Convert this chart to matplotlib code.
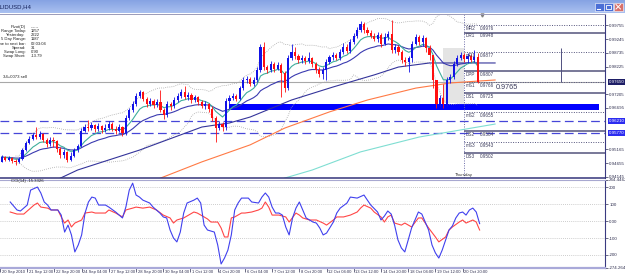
import numpy as np
import pandas as pd
import matplotlib
matplotlib.use("Agg")
import matplotlib.pyplot as plt
from matplotlib.patches import Rectangle
from matplotlib.colors import LinearSegmentedColormap
from matplotlib.transforms import ScaledTranslation

plt.rcParams['font.family'] = ['Liberation Sans', 'DejaVu Sans']

W, H = 625, 277

# ---- H4 candles, AUDUSD (open of each bar = close of the previous one)
first_open = 0.9470
close = [0.9488, 0.9477, 0.9484, 0.9473, 0.9470, 0.9481, 0.9514, 0.9540, 0.9555, 0.9570,
         0.9562, 0.9573, 0.9551, 0.9536, 0.9551, 0.9547, 0.9518, 0.9496, 0.9507, 0.9477,
         0.9492, 0.9514, 0.9529, 0.9584, 0.9599, 0.9595, 0.9607, 0.9592, 0.9603, 0.9588,
         0.9595, 0.9610, 0.9592, 0.9584, 0.9599, 0.9577, 0.9632, 0.9662, 0.9684, 0.9714,
         0.9729, 0.9703, 0.9684, 0.9695, 0.9681, 0.9692, 0.9662, 0.9644, 0.9684, 0.9677,
         0.9699, 0.9714, 0.9729, 0.9710, 0.9718, 0.9699, 0.9710, 0.9692, 0.9677, 0.9684,
         0.9666, 0.9632, 0.9595, 0.9610, 0.9599, 0.9695, 0.9706, 0.9714, 0.9703, 0.9743,
         0.9773, 0.9777, 0.9758, 0.9773, 0.9810, 0.9895, 0.9821, 0.9810, 0.9832, 0.9814,
         0.9829, 0.9799, 0.9743, 0.9854, 0.9877, 0.9862, 0.9847, 0.9854, 0.9843, 0.9854,
         0.9832, 0.9810, 0.9795, 0.9810, 0.9840, 0.9858, 0.9866, 0.9854, 0.9877, 0.9895,
         0.9880, 0.9914, 0.9936, 0.9958, 0.9980, 0.9958, 0.9947, 0.9936, 0.9925, 0.9940,
         0.9906, 0.9932, 0.9943, 0.9884, 0.9895, 0.9877, 0.9847, 0.9840, 0.9854, 0.9906,
         0.9932, 0.9914, 0.9928, 0.9891, 0.9866, 0.9773, 0.9684, 0.9706, 0.9684, 0.9773,
         0.9784, 0.9832, 0.9854, 0.9866, 0.9851, 0.9862, 0.9847, 0.9858, 0.9765]
high = [0.9496, 0.9492, 0.9492, 0.9488, 0.9481, 0.9488, 0.9521, 0.9547, 0.9566, 0.9577,
        0.9599, 0.9584, 0.9577, 0.9558, 0.9562, 0.9562, 0.9551, 0.9525, 0.9518, 0.9510,
        0.9507, 0.9521, 0.9536, 0.9595, 0.9610, 0.9625, 0.9618, 0.9610, 0.9614, 0.9607,
        0.9610, 0.9621, 0.9618, 0.9603, 0.9610, 0.9603, 0.9644, 0.9669, 0.9695, 0.9725,
        0.9736, 0.9732, 0.9710, 0.9706, 0.9703, 0.9703, 0.9736, 0.9669, 0.9695, 0.9692,
        0.9710, 0.9725, 0.9740, 0.9751, 0.9729, 0.9725, 0.9718, 0.9714, 0.9699, 0.9695,
        0.9688, 0.9677, 0.9640, 0.9621, 0.9618, 0.9706, 0.9718, 0.9725, 0.9721, 0.9751,
        0.9784, 0.9788, 0.9784, 0.9784, 0.9821, 0.9906, 0.9914, 0.9829, 0.9843, 0.9840,
        0.9840, 0.9836, 0.9806, 0.9866, 0.9906, 0.9895, 0.9869, 0.9866, 0.9862, 0.9877,
        0.9858, 0.9840, 0.9821, 0.9821, 0.9851, 0.9866, 0.9877, 0.9873, 0.9888, 0.9910,
        0.9906, 0.9925, 0.9947, 0.9969, 0.9991, 0.9988, 0.9969, 0.9958, 0.9947, 0.9951,
        0.9947, 0.9947, 0.9954, 0.9995, 0.9906, 0.9903, 0.9884, 0.9858, 0.9862, 0.9917,
        0.9943, 0.9940, 0.9940, 0.9932, 0.9903, 0.9858, 0.9773, 0.9718, 0.9758, 0.9784,
        0.9795, 0.9843, 0.9866, 0.9877, 0.9873, 0.9873, 0.9869, 0.9884, 0.9873]
low = [0.9470, 0.9473, 0.9473, 0.9466, 0.9459, 0.9466, 0.9477, 0.9510, 0.9536, 0.9551,
       0.9555, 0.9555, 0.9544, 0.9525, 0.9529, 0.9525, 0.9507, 0.9484, 0.9484, 0.9470,
       0.9473, 0.9488, 0.9507, 0.9525, 0.9581, 0.9584, 0.9588, 0.9581, 0.9584, 0.9577,
       0.9581, 0.9588, 0.9584, 0.9573, 0.9581, 0.9566, 0.9570, 0.9625, 0.9655, 0.9677,
       0.9706, 0.9695, 0.9673, 0.9677, 0.9669, 0.9673, 0.9655, 0.9629, 0.9636, 0.9662,
       0.9669, 0.9692, 0.9706, 0.9703, 0.9699, 0.9688, 0.9692, 0.9681, 0.9669, 0.9666,
       0.9655, 0.9621, 0.9544, 0.9588, 0.9584, 0.9588, 0.9684, 0.9699, 0.9695, 0.9699,
       0.9736, 0.9762, 0.9751, 0.9751, 0.9766, 0.9803, 0.9810, 0.9799, 0.9803, 0.9803,
       0.9810, 0.9710, 0.9729, 0.9736, 0.9847, 0.9851, 0.9836, 0.9836, 0.9832, 0.9836,
       0.9821, 0.9799, 0.9784, 0.9777, 0.9773, 0.9832, 0.9847, 0.9847, 0.9847, 0.9869,
       0.9873, 0.9873, 0.9906, 0.9928, 0.9951, 0.9947, 0.9940, 0.9928, 0.9917, 0.9914,
       0.9895, 0.9903, 0.9921, 0.9873, 0.9873, 0.9866, 0.9836, 0.9825, 0.9803, 0.9840,
       0.9903, 0.9903, 0.9899, 0.9877, 0.9847, 0.9743, 0.9669, 0.9673, 0.9669, 0.9677,
       0.9762, 0.9777, 0.9825, 0.9847, 0.9840, 0.9836, 0.9840, 0.9840, 0.9762]

# ---- slow moving averages (bar index, price)
slow_ma_bar = [17, 22, 40, 58, 66, 72, 84, 96, 108, 115, 124, 134, 143]
slow_ma = [0.9410, 0.9440, 0.9514, 0.9599, 0.9614, 0.9636, 0.9699, 0.9747, 0.9792, 0.9821,
           0.9836, 0.9836, 0.9836]
orange_ma_bar = [46, 58, 72, 82, 95, 106, 120, 130, 138, 143]
orange_ma = [0.9410, 0.9470, 0.9533, 0.9595, 0.9655, 0.9699, 0.9743, 0.9762, 0.9769, 0.9773]
aqua_ma_bar = [82, 90, 104, 121, 143]
aqua_ma = [0.9410, 0.9440, 0.9507, 0.9562, 0.9610]

# ---- daily pivots
pivot_names = ["MR2", "DR1", "mR1", "DPP", "mS1", "DS1", "mS2", "DS2", "mS3", "DS3"]
pivot_values = [0.9976, 0.9948, 0.9877, 0.9807, 0.9766, 0.9725, 0.9655, 0.9584, 0.9543, 0.9502]
day_start = 134
user_lines = [0.9621, 0.9577]
zone_bars = (66, 173)
zone_prices = (0.9662, 0.9684)
shade_bars = (128, 134)
shade_prices = (0.9688, 0.9891)
marker_bar = 162
marker_top = 0.9891

price_ticks = [0.99755, 0.99245, 0.98735, 0.98225, 0.97205, 0.96695, 0.95165, 0.94655, 0.94145]

# ---- CCI panel
cci_bar = [0, 2, 3, 5, 6, 8, 9, 10, 11, 12, 14, 15, 16, 17, 18, 19, 20, 21, 22, 23, 24, 25, 26, 28,
           29, 31, 33, 34, 35, 36, 37, 38, 39, 41, 42, 44, 45, 46, 47, 48, 49, 50, 51, 52, 54,
           55, 56, 57, 58, 60, 61, 62, 63, 64, 65, 66, 67, 68, 70, 71, 73, 74, 75, 76, 77, 78,
           79, 80, 81, 82, 83, 84, 85, 86, 87, 89, 90, 91, 92, 93, 95, 96, 97, 99, 100, 102,
           104, 105, 106, 108, 109, 110, 111, 112, 113, 114, 115, 116, 117, 118, 119, 120, 121,
           122, 123, 124, 125, 126, 127, 128, 129, 130, 131, 132, 133, 134, 135, 136, 137, 138]
cci = [112, 65, 59, 94, 182, 200, 165, 112, 94, 65, 65, 35, -65, -24, -82, -182, -141, -82,
       47, 112, 141, 135, 94, 94, 82, 53, 18, 82, 182, 223, 153, 141, 123, 106, 82, 47, 24, 18,
       -53, -100, -123, -65, 47, 106, 123, 135, 106, -24, -53, -65, -141, -253, -218, -171,
       -82, 65, 106, 135, 135, 112, 106, 141, 165, 141, 82, 47, 47, 35, -35, -82, 18, 76, 112,
       65, 18, -6, -12, -41, -82, -71, -6, 47, 76, 106, 141, 135, 153, 123, 94, 53, 6, 29, 59,
       41, -24, -112, -159, -182, -112, -41, 6, 53, 41, -6, -53, -141, -188, -218, -171, -112,
       -53, -29, 18, 47, 53, 35, 65, 76, 53, -15.3326]
sig_bar = [0, 2, 4, 7, 8, 9, 11, 12, 14, 15, 16, 17, 18, 19, 21, 22, 24, 25, 28, 29, 31, 33,
           34, 36, 37, 39, 41, 43, 45, 47, 48, 49, 51, 54, 55, 57, 58, 59, 61, 62, 63, 64, 65,
           66, 68, 69, 71, 73, 74, 75, 76, 77, 79, 81, 82, 84, 85, 86, 88, 90, 92, 93, 95, 96,
           98, 100, 102, 103, 104, 106, 107, 109, 110, 111, 112, 113, 115, 116, 118, 120, 121,
           123, 125, 126, 128, 129, 130, 132, 133, 134, 136, 137, 138]
sig = [53, 41, 41, 94, 106, 82, 76, 65, 65, 24, -12, 6, -35, -12, 6, 47, 53, 47, 47, 65, 47,
       24, 65, 76, 82, 76, 82, 65, 35, 18, -12, 6, 18, 53, 47, 24, 12, -6, -6, -41, -94, -94,
       18, 24, 47, 47, 53, 65, 76, 112, 82, 35, 35, 24, -6, 47, 35, 18, 6, 6, -12, -24, 6, 24,
       24, 35, 53, 76, 94, 76, 53, 24, -6, 24, 35, -12, -24, -12, -35, 18, 18, -41, -94, -123,
       -94, -53, -35, -6, 6, -12, 6, -6, -53]
cci_ticks = [244.4462, 200, 100, 0, -100, -200, -274.2644]
cci_tick_labels = ["244.4462", "200", "100", "0.00", "-100", "-200", "-274.2644"]

# ---- time axis
tick_bars = [-3, 5, 13, 21, 29, 37, 45, 53, 61, 69, 77, 85, 93, 101, 109, 117, 125, 133]
tick_labels = ["20 Sep 2010", "21 Sep 12:00", "22 Sep 20:00", "24 Sep 04:00", "27 Sep 12:00",
               "28 Sep 20:00", "30 Sep 04:00", "1 Oct 12:00", "4 Oct 20:00", "6 Oct 04:00",
               "7 Oct 12:00", "8 Oct 20:00", "12 Oct 04:00", "13 Oct 12:00", "14 Oct 20:00",
               "18 Oct 04:00", "19 Oct 12:00", "20 Oct 20:00"]

info_labels = ["Pivot(D)", "Range Today:", "Yesterday:", "5 Day Range:", "Time to next bar:",
               "Spread:", "Swap Long:", "Swap Short:"]
info_values = ["------", "1257", "2222", "1187", "02:03:04", "31", "0.90", "-13.79"]


def box(x0, y0, x1, y1):
    return [x0 / W, 1 - y1 / H, (x1 - x0) / W, (y1 - y0) / H]


fig = plt.figure(figsize=(W / 100, H / 100), dpi=100, facecolor="white")
XL = (-0.507, 174.855)
UP, DN = "#1212e6", "#ff1010"
NAVY = "#3a3a80"

# ---------------- title bar
tb = fig.add_axes(box(0, 0, W, 13))
cmap = LinearSegmentedColormap.from_list("tb", ["#86a3e3", "#a9c0f0"])
tb.imshow(np.linspace(0, 1, 20)[:, None], aspect="auto", cmap=cmap, extent=(0, W, 13, 0))
tb.set_xlim(0, W)
tb.set_ylim(13, 0)
tb.axis("off")
tb.text(-3, 6.5, "AUDUSD,H4", fontsize=4.3, color="#13205a", va="center", ha="left")
for x0, fc in [(595, "#4b6fd6"), (604, "#4b6fd6"), (614, "#d9706a")]:
    tb.add_patch(Rectangle((x0, 2.5), 8.5, 8.5, fc=fc, ec="white", lw=0.4))
tb.plot([597, 600], [9, 9], color="white", lw=0.8)
tb.add_patch(Rectangle((606, 4.5), 4.5, 4.5, fc="none", ec="white", lw=0.6))
tb.plot([616, 620.5], [4.5, 9], color="white", lw=0.7)
tb.plot([616, 620.5], [9, 4.5], color="white", lw=0.7)

# ---------------- main price panel
ax = fig.add_axes(box(0, 14, 605, 178))
n = len(close)
x = np.arange(n)
c = np.array(close)
o = np.array([first_open] + close[:-1])
h = np.array(high)
l = np.array(low)
col = [UP if cc >= oo else DN for oo, cc in zip(o, c)]

ax.add_patch(Rectangle((shade_bars[0], shade_prices[0]), shade_bars[1] - shade_bars[0],
                       shade_prices[1] - shade_prices[0], fc="#e4e4e4", ec="none", zorder=0))
ax.add_patch(Rectangle((zone_bars[0], zone_prices[0]), zone_bars[1] - zone_bars[0],
                       zone_prices[1] - zone_prices[0], fc="#0000ff", ec="none", zorder=1))
for v in user_lines:
    ax.axhline(v, color="#4646d8", lw=0.9, ls=(0, (7, 3.5)), zorder=1.5)
ax.axhline(c[-1], color="#a8a8a8", lw=0.8, zorder=1.5)
ax.axvline(day_start, color="#6a6aa8", lw=0.7, ls=(0, (1, 1.5)), zorder=1.5)

for name, v in zip(pivot_names, pivot_values):
    if name.startswith("D"):
        ax.hlines(v, day_start, XL[1], color="#54547c", lw=1.1, zorder=1.6)
    else:
        ax.hlines(v, day_start, XL[1], color="#54547c", lw=0.7, ls=(0, (1, 1.5)), zorder=1.6)
    ax.annotate(name, (day_start + 0.6, v), xytext=(0, -2.3), textcoords="offset points",
                fontsize=3.3, color="#3c3c5c", va="center", ha="left", zorder=4)
    ax.annotate(f"{v:.4f}", (day_start + 4.6, v), xytext=(0, -2.3), textcoords="offset points",
                fontsize=3.3, color="#3c3c5c", va="center", ha="left", zorder=4)
ax.annotate(f"{c[-1]:.4f}", (143.2, c[-1]), xytext=(0, -3.6), textcoords="offset points",
            fontsize=5.2, color="#3a3a5a", va="center", ha="left", zorder=4)
ax.vlines(marker_bar, c[-1], marker_top, color="#505080", lw=0.7, zorder=2)

# bands and averages
s = pd.Series(c)
mid = s.rolling(20, min_periods=5).mean()
sd = s.rolling(20, min_periods=5).std(ddof=0)
ax.plot(x, mid + 2 * sd, color="#a8a8a8", lw=0.6, ls=(0, (1, 1.5)), zorder=2)
ax.plot(x, mid - 2 * sd, color="#a8a8a8", lw=0.6, ls=(0, (1, 1.5)), zorder=2)
ax.plot(slow_ma_bar, slow_ma, color="#34349a", lw=0.8, zorder=2.5)
ax.plot(orange_ma_bar, orange_ma, color="#ff7a45", lw=0.8, zorder=2.5)
ax.plot(aqua_ma_bar, aqua_ma, color="#7fded2", lw=0.8, zorder=2.5)
ax.plot(x, s.ewm(span=21, adjust=False).mean(), color="#3a3ab0", lw=0.8, zorder=2.5)
ax.plot(x, s.ewm(span=8, adjust=False).mean(), color="#3fae9c", lw=0.8, zorder=2.6)

# candles
ax.vlines(x, l, h, colors=col, lw=0.6, zorder=3)
ax.bar(x, np.maximum(np.abs(c - o), 0.00008), bottom=np.minimum(o, c), width=0.62,
       color=col, lw=0, zorder=3.1)

ax.text(day_start, 0.9414, "Thursday", fontsize=3.2, color="#303030", ha="center", va="bottom")
ax.text(0.3, 0.9775, "34+0073 sell", fontsize=3.1, color="#202020", ha="left", va="bottom")
ax.plot([139.2], [1.0013], marker="v", ms=2.2, color="#808080", clip_on=False)

for i, (lab, val) in enumerate(zip(info_labels, info_values)):
    yy = 0.9969 - i * 0.00153
    ax.text(24.0 / 3.45, yy, lab, fontsize=3.0, color="#202020", ha="right", va="center")
    ax.text(29.0 / 3.45, yy, val, fontsize=3.0, color="#202020", ha="left", va="center")

ax.set_xlim(*XL)
ax.set_ylim(0.94104, 1.00172)
ax.yaxis.tick_right()
ax.set_yticks(price_ticks)
ax.set_yticklabels([f"{v:.5f}" for v in price_ticks])
ax.tick_params(axis="y", length=1.8, width=0.5, pad=1.2, labelsize=3.2, colors="#303050")
ax.set_xticks([])
for side in ["left"]:
    ax.spines[side].set_visible(False)
ax.spines["top"].set_color("#9a9ab8")
ax.spines["top"].set_linewidth(0.7)
ax.spines["right"].set_color(NAVY)
ax.spines["right"].set_linewidth(0.8)
ax.spines["bottom"].set_color("#34347a")
ax.spines["bottom"].set_linewidth(1.1)

hl = [(c[-1], "#1e1e66")] + [(v, "#2c2cf0") for v in user_lines]
for v, fc in hl:
    ax.text(1.006, v, f"{v:.5f}", transform=ax.get_yaxis_transform(), fontsize=3.2,
            color="white", va="center", ha="left", clip_on=False,
            bbox=dict(boxstyle="square,pad=0.15", fc=fc, ec="none"))

# ---------------- CCI panel
ax2 = fig.add_axes(box(0, 179.5, 605, 267.6))
for g in [200, 100, 0, -100, -200]:
    ax2.axhline(g, color="#bdbdbd", lw=0.6, ls=(0, (1, 1.5)), zorder=0)
ax2.plot(sig_bar, sig, color="#ff4646", lw=0.8)
ax2.plot(cci_bar, cci, color="#4040ee", lw=0.8)
ax2.text(0.3, 236, f"CCI(14) {cci[-1]:.4f}", fontsize=3.1, color="#202020", ha="left", va="center")
ax2.set_xlim(*XL)
ax2.set_ylim(-274.2644, 244.4462)
ax2.yaxis.tick_right()
ax2.set_yticks(cci_ticks)
ax2.set_yticklabels(cci_tick_labels)
ax2.tick_params(axis="y", length=1.8, width=0.5, pad=1.2, labelsize=3.2, colors="#303050")
ax2.set_xticks(tick_bars)
ax2.set_xticklabels(tick_labels)
ax2.tick_params(axis="x", length=3.2, width=0.5, pad=-1.6, labelsize=3.0, colors="#303050")
for lab in ax2.get_xticklabels():
    lab.set_ha("left")
    lab.set_transform(lab.get_transform() + ScaledTranslation(1.2 / 72, 0, fig.dpi_scale_trans))
ax2.spines["left"].set_visible(False)
ax2.spines["top"].set_color("#a8a8d0")
ax2.spines["top"].set_linewidth(0.8)
ax2.spines["right"].set_color(NAVY)
ax2.spines["right"].set_linewidth(0.8)
ax2.spines["bottom"].set_color("#a9a9d9")
ax2.spines["bottom"].set_linewidth(1.6)

fig.savefig("out.png", dpi=100, facecolor="white")
